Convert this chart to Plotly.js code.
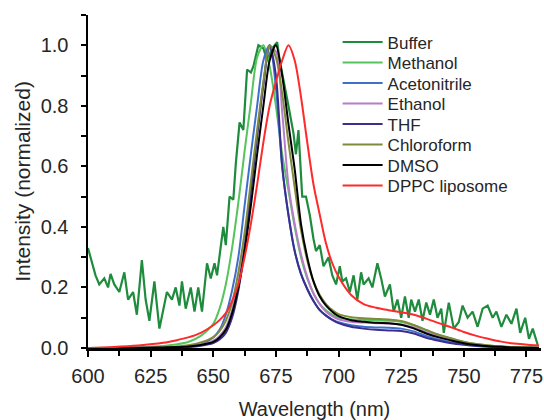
<!DOCTYPE html>
<html>
<head>
<meta charset="utf-8">
<script src="https://cdn.plot.ly/plotly-3.0.1.min.js"></script>
<style>
  html, body { margin: 0; padding: 0; background: #fff; }
  #chart { width: 544px; height: 420px; }
</style>
</head>
<body>
<div id="chart"></div>
<script>
// ---- Data ----
const seriesNames = ["Buffer", "Methanol", "Acetonitrile", "Ethanol", "THF", "Chloroform", "DMSO", "DPPC liposome"];

// Noisy buffer spectrum (own wavelength sampling)
const bufferWavelength = [600,601.5,603,604.5,606.5,608,609,610.5,612.5,614.5,616,618,619.5,621.5,623,624.5,626.5,628.5,630,631.5,633.5,635,636.5,637.5,639,641,642.5,644,645.5,647.5,649,650.5,651.5,654,655,656.5,658,659,660.5,662,663.5,665,666,668,670,671.5,673.5,675.5,676.5,678,680,682,683,684,685.5,687,688.5,690,691,692.5,694,696,697.5,699,700.5,701.5,703,704.5,706,707.5,709,710,712,713.5,715.5,717,718.5,720.5,722,723.5,725,726.5,728,729,730.5,732,733.5,735,736.5,738,739.5,741,742,744,746,748,749.5,751.5,753.5,755.5,757.5,759.5,761.5,763,765,767,769,771,772.5,774.5,776,777.5,779.5];
const bufferIntensity = [0.33,0.28,0.24,0.21,0.23,0.20,0.245,0.21,0.185,0.25,0.16,0.185,0.11,0.29,0.16,0.09,0.22,0.064,0.13,0.185,0.16,0.20,0.14,0.22,0.13,0.20,0.12,0.20,0.12,0.28,0.23,0.28,0.24,0.40,0.34,0.50,0.49,0.61,0.745,0.72,0.92,0.91,0.93,1.0,0.99,0.95,0.99,1.01,0.95,0.89,0.80,0.71,0.64,0.72,0.50,0.50,0.44,0.36,0.32,0.34,0.27,0.30,0.24,0.21,0.27,0.22,0.23,0.185,0.24,0.16,0.25,0.21,0.23,0.20,0.28,0.23,0.17,0.21,0.12,0.16,0.10,0.17,0.10,0.16,0.12,0.16,0.09,0.15,0.11,0.16,0.10,0.13,0.05,0.15,0.064,0.086,0.14,0.10,0.12,0.07,0.13,0.14,0.10,0.12,0.07,0.11,0.08,0.13,0.05,0.10,0.03,0.064,0.01];

// Shared wavelength grid for the smooth solvent spectra
const wavelength = [600,610,620,630,635,640,645,650,652.5,655,657.5,660,662.5,665,667.5,670,672.5,675,677.5,680,682.5,685,687.5,690,692.5,695,697.5,700,705,710,715,720,725,730,735,740,745,750,755,760,765,770,780];

const methanol     = [0,0.001,0.003,0.007,0.012,0.02,0.04,0.08,0.13,0.21,0.33,0.48,0.65,0.81,0.96,1.0,0.93,0.80,0.64,0.52,0.40,0.30,0.23,0.18,0.145,0.125,0.11,0.10,0.095,0.093,0.092,0.09,0.086,0.075,0.058,0.043,0.031,0.021,0.013,0.008,0.005,0.003,0.001];
const acetonitrile = [0,0,0.001,0.002,0.003,0.005,0.012,0.035,0.06,0.11,0.19,0.30,0.47,0.64,0.80,0.95,1.0,0.86,0.60,0.44,0.32,0.245,0.195,0.155,0.125,0.107,0.094,0.085,0.075,0.07,0.068,0.067,0.064,0.055,0.04,0.028,0.019,0.013,0.008,0.005,0.003,0.002,0];
const ethanol      = [0,0,0.001,0.002,0.003,0.005,0.011,0.024,0.04,0.068,0.125,0.22,0.35,0.52,0.70,0.87,0.99,0.98,0.78,0.54,0.41,0.31,0.235,0.18,0.145,0.12,0.105,0.095,0.087,0.084,0.082,0.081,0.078,0.068,0.052,0.038,0.027,0.018,0.012,0.007,0.004,0.002,0];
const thf          = [0,0,0.001,0.001,0.002,0.003,0.007,0.016,0.028,0.05,0.10,0.19,0.33,0.52,0.70,0.87,1.0,0.90,0.60,0.44,0.32,0.245,0.195,0.155,0.125,0.107,0.093,0.082,0.07,0.064,0.06,0.058,0.056,0.048,0.034,0.024,0.016,0.011,0.007,0.004,0.002,0.001,0];
const chloroform   = [0,0,0.001,0.003,0.005,0.009,0.018,0.036,0.056,0.09,0.15,0.25,0.38,0.55,0.72,0.88,1.0,0.96,0.84,0.68,0.53,0.39,0.29,0.22,0.175,0.145,0.125,0.112,0.102,0.098,0.096,0.094,0.089,0.076,0.06,0.044,0.032,0.02,0.013,0.008,0.005,0.003,0.001];
const dmso         = [0,0,0,0.002,0.003,0.005,0.01,0.02,0.035,0.06,0.115,0.20,0.32,0.47,0.64,0.80,0.95,1.0,0.90,0.74,0.59,0.41,0.30,0.22,0.17,0.14,0.12,0.105,0.092,0.087,0.083,0.082,0.077,0.065,0.048,0.035,0.025,0.016,0.01,0.006,0.004,0.002,0.001];
const dppc         = [0,0.003,0.008,0.017,0.025,0.035,0.05,0.075,0.092,0.115,0.155,0.21,0.30,0.41,0.54,0.68,0.80,0.88,0.95,1.0,0.95,0.83,0.68,0.54,0.44,0.345,0.28,0.235,0.175,0.145,0.133,0.125,0.118,0.11,0.097,0.082,0.068,0.053,0.04,0.03,0.021,0.015,0.008];

const seriesColors = ["#1f8c3d", "#55c45c", "#3f6fcc", "#b77cc9", "#3a2f8e", "#7f8b3a", "#000000", "#ff2a2a"];

const xTickStart = 600, xTickStep = 25, xMinorStep = 12.5;
const yTickStep = 0.2, yMinorStep = 0.1;

// ---- Traces ----
const smoothSeries = [methanol, acetonitrile, ethanol, thf, chloroform, dmso, dppc];
const traces = [{
  x: bufferWavelength, y: bufferIntensity, type: "scatter", mode: "lines",
  name: seriesNames[0], line: {color: seriesColors[0], width: 2.2}
}];
smoothSeries.forEach((ys, i) => {
  traces.push({
    x: wavelength, y: ys, type: "scatter", mode: "lines",
    name: seriesNames[i + 1],
    line: {color: seriesColors[i + 1], width: 2, shape: "spline", smoothing: 0.8}
  });
});

const font = "Arial, 'Liberation Sans', Helvetica, sans-serif";
const layout = {
  width: 544, height: 420,
  margin: {l: 88, r: 3, t: 15, b: 72},
  paper_bgcolor: "#ffffff", plot_bgcolor: "#ffffff",
  font: {family: font, color: "#262626"},
  showlegend: true,
  legend: {
    x: 0.551, y: 0.965, xanchor: "left", yanchor: "top",
    font: {size: 17, family: font, color: "#262626"},
    bgcolor: "rgba(0,0,0,0)", borderwidth: 0, itemwidth: 40
  },
  xaxis: {
    range: [600, 780.8], tick0: xTickStart, dtick: xTickStep,
    showgrid: false, zeroline: false,
    showline: true, linecolor: "#000", linewidth: 2.5,
    ticks: "outside", ticklen: 6, tickwidth: 2, tickcolor: "#000",
    minor: {dtick: xMinorStep, ticks: "outside", ticklen: 5, tickwidth: 2, tickcolor: "#000", showgrid: false},
    tickfont: {size: 20, family: font, color: "#262626"},
    ticklabelstandoff: 2,
    title: {text: "Wavelength (nm)", font: {size: 20, family: font, color: "#262626"}, standoff: 17},
    automargin: false
  },
  yaxis: {
    range: [0, 1.1], tick0: 0, dtick: yTickStep, tickformat: ".1f",
    showgrid: false, zeroline: false,
    showline: true, linecolor: "#000", linewidth: 2.5,
    ticks: "outside", ticklen: 5, tickwidth: 2, tickcolor: "#000",
    minor: {dtick: yMinorStep, ticks: "outside", ticklen: 5, tickwidth: 2, tickcolor: "#000", showgrid: false},
    tickfont: {size: 20, family: font, color: "#262626"},
    ticklabelstandoff: 8,
    title: {text: "Intensity (normalized)", font: {size: 21, family: font, color: "#262626"}, standoff: 5},
    automargin: false
  }
};

Plotly.newPlot("chart", traces, layout, {displayModeBar: false, staticPlot: true}).then(function (gd) {
  // Tighten legend row spacing to match the reference (about 20.5 px per entry)
  const rowGap = 20.5, firstRowY = 42;
  const legend = gd.querySelector(".legend");
  if (!legend) return;
  const groups = legend.querySelectorAll(".traces");
  const legendBox = legend.getBoundingClientRect();
  const chartBox = gd.getBoundingClientRect();
  const legendTop = legendBox.top - chartBox.top;
  groups.forEach(function (g, i) {
    const t = g.getAttribute("transform") || "";
    const m = t.match(/translate\(\s*([-\d.]+)[ ,]+([-\d.]+)\s*\)/);
    const x = m ? parseFloat(m[1]) : 0;
    g.setAttribute("transform", "translate(" + x + "," + (firstRowY - legendTop + i * rowGap) + ")");
  });
});
</script>
</body>
</html>
